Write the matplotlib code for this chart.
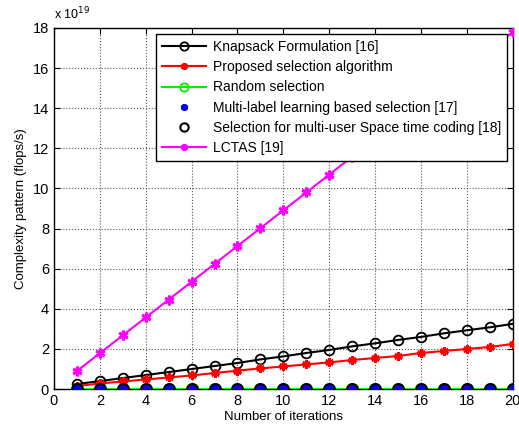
import matplotlib
matplotlib.use("Agg")
import matplotlib.pyplot as plt
from matplotlib.lines import Line2D
import numpy as np

iters = list(range(1, 21))
knapsack = [0.25, 0.40, 0.55, 0.70, 0.85, 1.00, 1.15, 1.30, 1.48, 1.63,
            1.80, 1.95, 2.13, 2.28, 2.45, 2.60, 2.78, 2.93, 3.08, 3.25]
proposed = [0.15, 0.28, 0.38, 0.48, 0.58, 0.68, 0.80, 0.92, 1.03, 1.13,
            1.23, 1.33, 1.45, 1.55, 1.65, 1.80, 1.90, 2.00, 2.10, 2.25]
random_sel = [0.0] * 20
multilabel = [0.0] * 20
stc = [0.0] * 20
lctas = [0.90, 1.79, 2.68, 3.57, 4.46, 5.35, 6.24, 7.13, 8.02, 8.91,
         9.80, 10.69, 11.58, 12.47, 13.36, 14.25, 15.14, 16.03, 16.92, 17.80]

labels = ["Knapsack Formulation [16]", "Proposed selection algorithm", "Random selection",
          "Multi-label learning based selection [17]",
          "Selection for multi-user Space time coding [18]", "LCTAS [19]"]
xticks = list(range(0, 21, 2))
yticks = list(range(0, 19, 2))

plt.rcParams['font.family'] = ['Liberation Sans', 'DejaVu Sans']
fig = plt.figure(figsize=(5.19, 4.29), dpi=100)
ax = fig.add_axes([0.104, 0.093, 0.884, 0.842])

ast = (6, 2, 0)
ax.plot(iters, lctas, color='#ff00ff', lw=1.5, marker=ast, ms=7, mew=2, zorder=3)
ax.plot(iters, knapsack, color='black', lw=1.5, marker='o', ms=7, mfc='none', mew=1.3, zorder=3)
ax.plot(iters, proposed, color='red', lw=1.5, marker=ast, ms=6, mew=2, zorder=3)
ax.plot(iters, random_sel, color='#00ee00', lw=2, marker='o', ms=8, mfc='none', mew=1.3, zorder=3)
ax.plot(iters, multilabel, ls='none', marker='o', ms=7, color='#0000ee', zorder=4)
ax.plot(iters, stc, ls='none', marker='o', ms=8, mfc='none', mec='black', mew=1.3, zorder=5)

ax.set_xlim(0, 20)
ax.set_ylim(0, 18)
ax.set_xticks(xticks)
ax.set_yticks(yticks)
ax.grid(True, color='#555555', ls=':', lw=0.8)
ax.tick_params(direction='in', labelsize=10.5, top=True, right=True, length=4)
for s in ax.spines.values():
    s.set_linewidth(1.0)
ax.set_xlabel("Number of iterations", fontsize=9.5, labelpad=2)
ax.set_ylabel("Complexity pattern (flops/s)", fontsize=9.5, labelpad=4)
fig.text(0.105, 0.947, r"x 10$^{19}$", fontsize=9, ha='left', va='bottom')

handles = [
    Line2D([], [], color='black', lw=1.5, marker='o', ms=6, mfc='none', mew=1.3),
    Line2D([], [], color='red', lw=1.5, marker=ast, ms=5, mew=2),
    Line2D([], [], color='#00ee00', lw=1.5, marker='o', ms=6, mfc='none', mew=1.3),
    Line2D([], [], ls='none', marker=ast, ms=5, mew=2, color='#0000ee'),
    Line2D([], [], ls='none', marker='o', ms=6, mfc='none', mec='black', mew=1.5),
    Line2D([], [], color='#ff00ff', lw=1.5, marker=ast, ms=5, mew=2),
]
leg = ax.legend(handles, labels, loc='upper right', bbox_to_anchor=(0.987, 0.982),
                fontsize=10, frameon=True, fancybox=False, edgecolor='black',
                handlelength=3.2, labelspacing=0.45, borderpad=0.4, handletextpad=0.5,
                borderaxespad=0.0)
leg.get_frame().set_linewidth(1.0)
leg.get_frame().set_alpha(1)

fig.savefig("out.png", dpi=100)
